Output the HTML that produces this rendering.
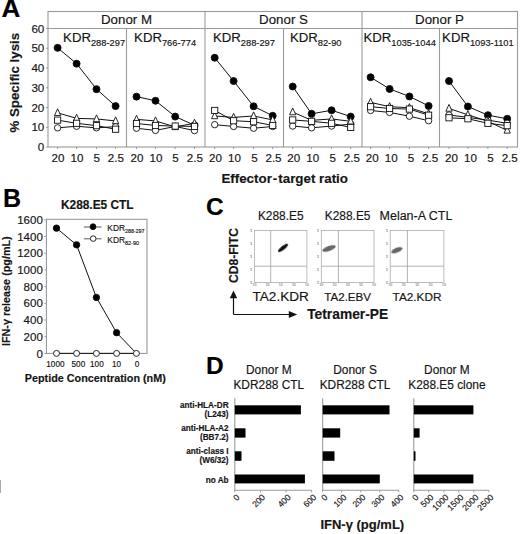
<!DOCTYPE html>
<html><head><meta charset="utf-8"><style>
html,body{margin:0;padding:0;background:#fff;width:520px;height:534px;overflow:hidden}
svg{display:block;font-family:"Liberation Sans", sans-serif}
text{stroke-width:0.16px}
</style></head><body>
<svg width="520" height="534" viewBox="0 0 520 534" font-family='"Liberation Sans", sans-serif'>
<defs><filter id="bl" x="-50%" y="-50%" width="200%" height="200%"><feGaussianBlur stdDeviation="0.6"/></filter></defs>
<rect width="520" height="534" fill="#fff"/>
<text x="1.60" y="17.30" font-size="26" text-anchor="start" font-weight="bold" fill="#000" stroke="#000" >A</text>
<rect x="48" y="11.5" width="469.5" height="135.5" fill="none" stroke="#9a9a9a" stroke-width="1.1"/>
<line x1="48.00" y1="28.50" x2="517.50" y2="28.50" stroke="#9a9a9a" stroke-width="1.1"/>
<line x1="126.50" y1="28.50" x2="126.50" y2="147.00" stroke="#9a9a9a" stroke-width="1.1"/>
<line x1="205.00" y1="11.50" x2="205.00" y2="147.00" stroke="#9a9a9a" stroke-width="1.1"/>
<line x1="283.50" y1="28.50" x2="283.50" y2="147.00" stroke="#9a9a9a" stroke-width="1.1"/>
<line x1="362.00" y1="11.50" x2="362.00" y2="147.00" stroke="#9a9a9a" stroke-width="1.1"/>
<line x1="439.50" y1="28.50" x2="439.50" y2="147.00" stroke="#9a9a9a" stroke-width="1.1"/>
<text x="126.50" y="23.50" font-size="13.3" text-anchor="middle" fill="#151515" stroke="#151515" >Donor M</text>
<text x="283.50" y="23.50" font-size="13.3" text-anchor="middle" fill="#151515" stroke="#151515" >Donor S</text>
<text x="439.50" y="23.50" font-size="13.3" text-anchor="middle" fill="#151515" stroke="#151515" >Donor P</text>
<text x="63.10" y="41.5" font-size="13.2" fill="#151515" stroke="#151515">KDR<tspan font-size="9.3" dy="4.6">288-297</tspan></text>
<text x="134.10" y="41.5" font-size="13.2" fill="#151515" stroke="#151515">KDR<tspan font-size="9.3" dy="4.6">766-774</tspan></text>
<text x="213.00" y="41.5" font-size="13.2" fill="#151515" stroke="#151515">KDR<tspan font-size="9.3" dy="4.6">288-297</tspan></text>
<text x="289.90" y="41.5" font-size="13.2" fill="#151515" stroke="#151515">KDR<tspan font-size="9.3" dy="4.6">82-90</tspan></text>
<text x="363.50" y="41.5" font-size="13.2" fill="#151515" stroke="#151515">KDR<tspan font-size="9.3" dy="4.6">1035-1044</tspan></text>
<text x="442.10" y="41.5" font-size="13.2" fill="#151515" stroke="#151515">KDR<tspan font-size="9.3" dy="4.6">1093-1101</tspan></text>
<text x="44.30" y="151.10" font-size="11.6" text-anchor="end" fill="#151515" stroke="#151515" >0</text>
<line x1="46.00" y1="147.00" x2="48.00" y2="147.00" stroke="#9a9a9a" stroke-width="1"/>
<text x="44.30" y="131.35" font-size="11.6" text-anchor="end" fill="#151515" stroke="#151515" >10</text>
<line x1="46.00" y1="127.25" x2="48.00" y2="127.25" stroke="#9a9a9a" stroke-width="1"/>
<text x="44.30" y="111.60" font-size="11.6" text-anchor="end" fill="#151515" stroke="#151515" >20</text>
<line x1="46.00" y1="107.50" x2="48.00" y2="107.50" stroke="#9a9a9a" stroke-width="1"/>
<text x="44.30" y="91.85" font-size="11.6" text-anchor="end" fill="#151515" stroke="#151515" >30</text>
<line x1="46.00" y1="87.75" x2="48.00" y2="87.75" stroke="#9a9a9a" stroke-width="1"/>
<text x="44.30" y="72.10" font-size="11.6" text-anchor="end" fill="#151515" stroke="#151515" >40</text>
<line x1="46.00" y1="68.00" x2="48.00" y2="68.00" stroke="#9a9a9a" stroke-width="1"/>
<text x="44.30" y="52.35" font-size="11.6" text-anchor="end" fill="#151515" stroke="#151515" >50</text>
<line x1="46.00" y1="48.25" x2="48.00" y2="48.25" stroke="#9a9a9a" stroke-width="1"/>
<text x="44.30" y="32.60" font-size="11.6" text-anchor="end" fill="#151515" stroke="#151515" >60</text>
<line x1="46.00" y1="28.50" x2="48.00" y2="28.50" stroke="#9a9a9a" stroke-width="1"/>
<text x="57.90" y="162.30" font-size="11.6" text-anchor="middle" fill="#151515" stroke="#151515" >20</text>
<line x1="57.60" y1="147.00" x2="57.60" y2="149.00" stroke="#9a9a9a" stroke-width="1"/>
<text x="76.90" y="162.30" font-size="11.6" text-anchor="middle" fill="#151515" stroke="#151515" >10</text>
<line x1="76.60" y1="147.00" x2="76.60" y2="149.00" stroke="#9a9a9a" stroke-width="1"/>
<text x="96.80" y="162.30" font-size="11.6" text-anchor="middle" fill="#151515" stroke="#151515" >5</text>
<line x1="96.50" y1="147.00" x2="96.50" y2="149.00" stroke="#9a9a9a" stroke-width="1"/>
<text x="115.90" y="162.30" font-size="11.6" text-anchor="middle" fill="#151515" stroke="#151515" >2.5</text>
<line x1="115.60" y1="147.00" x2="115.60" y2="149.00" stroke="#9a9a9a" stroke-width="1"/>
<text x="136.90" y="162.30" font-size="11.6" text-anchor="middle" fill="#151515" stroke="#151515" >20</text>
<line x1="136.50" y1="147.00" x2="136.50" y2="149.00" stroke="#9a9a9a" stroke-width="1"/>
<text x="155.90" y="162.30" font-size="11.6" text-anchor="middle" fill="#151515" stroke="#151515" >10</text>
<line x1="155.50" y1="147.00" x2="155.50" y2="149.00" stroke="#9a9a9a" stroke-width="1"/>
<text x="175.60" y="162.30" font-size="11.6" text-anchor="middle" fill="#151515" stroke="#151515" >5</text>
<line x1="175.20" y1="147.00" x2="175.20" y2="149.00" stroke="#9a9a9a" stroke-width="1"/>
<text x="194.90" y="162.30" font-size="11.6" text-anchor="middle" fill="#151515" stroke="#151515" >2.5</text>
<line x1="194.50" y1="147.00" x2="194.50" y2="149.00" stroke="#9a9a9a" stroke-width="1"/>
<text x="215.50" y="162.30" font-size="11.6" text-anchor="middle" fill="#151515" stroke="#151515" >20</text>
<line x1="214.70" y1="147.00" x2="214.70" y2="149.00" stroke="#9a9a9a" stroke-width="1"/>
<text x="234.40" y="162.30" font-size="11.6" text-anchor="middle" fill="#151515" stroke="#151515" >10</text>
<line x1="233.60" y1="147.00" x2="233.60" y2="149.00" stroke="#9a9a9a" stroke-width="1"/>
<text x="254.40" y="162.30" font-size="11.6" text-anchor="middle" fill="#151515" stroke="#151515" >5</text>
<line x1="253.60" y1="147.00" x2="253.60" y2="149.00" stroke="#9a9a9a" stroke-width="1"/>
<text x="273.50" y="162.30" font-size="11.6" text-anchor="middle" fill="#151515" stroke="#151515" >2.5</text>
<line x1="272.70" y1="147.00" x2="272.70" y2="149.00" stroke="#9a9a9a" stroke-width="1"/>
<text x="293.80" y="162.30" font-size="11.6" text-anchor="middle" fill="#151515" stroke="#151515" >20</text>
<line x1="292.70" y1="147.00" x2="292.70" y2="149.00" stroke="#9a9a9a" stroke-width="1"/>
<text x="312.70" y="162.30" font-size="11.6" text-anchor="middle" fill="#151515" stroke="#151515" >10</text>
<line x1="311.60" y1="147.00" x2="311.60" y2="149.00" stroke="#9a9a9a" stroke-width="1"/>
<text x="332.70" y="162.30" font-size="11.6" text-anchor="middle" fill="#151515" stroke="#151515" >5</text>
<line x1="331.60" y1="147.00" x2="331.60" y2="149.00" stroke="#9a9a9a" stroke-width="1"/>
<text x="351.80" y="162.30" font-size="11.6" text-anchor="middle" fill="#151515" stroke="#151515" >2.5</text>
<line x1="350.70" y1="147.00" x2="350.70" y2="149.00" stroke="#9a9a9a" stroke-width="1"/>
<text x="372.20" y="162.30" font-size="11.6" text-anchor="middle" fill="#151515" stroke="#151515" >20</text>
<line x1="370.60" y1="147.00" x2="370.60" y2="149.00" stroke="#9a9a9a" stroke-width="1"/>
<text x="391.20" y="162.30" font-size="11.6" text-anchor="middle" fill="#151515" stroke="#151515" >10</text>
<line x1="389.60" y1="147.00" x2="389.60" y2="149.00" stroke="#9a9a9a" stroke-width="1"/>
<text x="411.00" y="162.30" font-size="11.6" text-anchor="middle" fill="#151515" stroke="#151515" >5</text>
<line x1="409.40" y1="147.00" x2="409.40" y2="149.00" stroke="#9a9a9a" stroke-width="1"/>
<text x="430.20" y="162.30" font-size="11.6" text-anchor="middle" fill="#151515" stroke="#151515" >2.5</text>
<line x1="428.60" y1="147.00" x2="428.60" y2="149.00" stroke="#9a9a9a" stroke-width="1"/>
<text x="451.50" y="162.30" font-size="11.6" text-anchor="middle" fill="#151515" stroke="#151515" >20</text>
<line x1="449.00" y1="147.00" x2="449.00" y2="149.00" stroke="#9a9a9a" stroke-width="1"/>
<text x="470.40" y="162.30" font-size="11.6" text-anchor="middle" fill="#151515" stroke="#151515" >10</text>
<line x1="467.90" y1="147.00" x2="467.90" y2="149.00" stroke="#9a9a9a" stroke-width="1"/>
<text x="490.40" y="162.30" font-size="11.6" text-anchor="middle" fill="#151515" stroke="#151515" >5</text>
<line x1="487.90" y1="147.00" x2="487.90" y2="149.00" stroke="#9a9a9a" stroke-width="1"/>
<text x="509.70" y="162.30" font-size="11.6" text-anchor="middle" fill="#151515" stroke="#151515" >2.5</text>
<line x1="507.20" y1="147.00" x2="507.20" y2="149.00" stroke="#9a9a9a" stroke-width="1"/>
<text x="284.7" y="183.0" font-size="13.35" text-anchor="middle" font-weight="bold" fill="#151515" stroke="#151515">Effector<tspan dx="1">-</tspan><tspan dx="1">target ratio</tspan></text>
<text x="0" y="0" font-size="13.3" font-weight="bold" fill="#151515" stroke="#151515" text-anchor="middle" transform="translate(18.6 82.7) rotate(-90)">% Specific lysis</text>
<polyline points="57.60,47.85 76.60,63.65 96.50,89.13 115.60,106.12" fill="none" stroke="#111" stroke-width="1.0"/>
<polyline points="57.60,112.83 76.60,118.36 96.50,118.95 115.60,120.93" fill="none" stroke="#111" stroke-width="1.0"/>
<polyline points="57.60,120.14 76.60,123.30 96.50,125.67 115.60,129.22" fill="none" stroke="#111" stroke-width="1.0"/>
<polyline points="57.60,127.84 76.60,126.26 96.50,127.84 115.60,126.66" fill="none" stroke="#111" stroke-width="1.0"/>
<circle cx="57.60" cy="47.85" r="3.5" fill="#000" stroke="#111" stroke-width="0.9"/>
<circle cx="76.60" cy="63.65" r="3.5" fill="#000" stroke="#111" stroke-width="0.9"/>
<circle cx="96.50" cy="89.13" r="3.5" fill="#000" stroke="#111" stroke-width="0.9"/>
<circle cx="115.60" cy="106.12" r="3.5" fill="#000" stroke="#111" stroke-width="0.9"/>
<circle cx="57.60" cy="127.84" r="3.2" fill="#fff" stroke="#111" stroke-width="0.9"/>
<circle cx="76.60" cy="126.26" r="3.2" fill="#fff" stroke="#111" stroke-width="0.9"/>
<circle cx="96.50" cy="127.84" r="3.2" fill="#fff" stroke="#111" stroke-width="0.9"/>
<circle cx="115.60" cy="126.66" r="3.2" fill="#fff" stroke="#111" stroke-width="0.9"/>
<polygon points="57.60,108.75 60.75,115.55 54.45,115.55" fill="#fff" stroke="#111" stroke-width="0.9"/>
<polygon points="76.60,114.28 79.75,121.08 73.45,121.08" fill="#fff" stroke="#111" stroke-width="0.9"/>
<polygon points="96.50,114.88 99.65,121.67 93.35,121.67" fill="#fff" stroke="#111" stroke-width="0.9"/>
<polygon points="115.60,116.85 118.75,123.65 112.45,123.65" fill="#fff" stroke="#111" stroke-width="0.9"/>
<rect x="54.50" y="117.04" width="6.2" height="6.2" fill="#fff" stroke="#111" stroke-width="0.9"/>
<rect x="73.50" y="120.20" width="6.2" height="6.2" fill="#fff" stroke="#111" stroke-width="0.9"/>
<rect x="93.40" y="122.57" width="6.2" height="6.2" fill="#fff" stroke="#111" stroke-width="0.9"/>
<rect x="112.50" y="126.12" width="6.2" height="6.2" fill="#fff" stroke="#111" stroke-width="0.9"/>
<polyline points="136.50,96.64 155.50,100.78 175.20,116.58 194.50,125.28" fill="none" stroke="#111" stroke-width="1.0"/>
<polyline points="136.50,119.35 155.50,120.93 175.20,126.86 194.50,123.30" fill="none" stroke="#111" stroke-width="1.0"/>
<polyline points="136.50,123.50 155.50,125.47 175.20,126.06 194.50,126.46" fill="none" stroke="#111" stroke-width="1.0"/>
<polyline points="136.50,128.24 155.50,130.41 175.20,126.46 194.50,130.61" fill="none" stroke="#111" stroke-width="1.0"/>
<circle cx="136.50" cy="96.64" r="3.5" fill="#000" stroke="#111" stroke-width="0.9"/>
<circle cx="155.50" cy="100.78" r="3.5" fill="#000" stroke="#111" stroke-width="0.9"/>
<circle cx="175.20" cy="116.58" r="3.5" fill="#000" stroke="#111" stroke-width="0.9"/>
<circle cx="194.50" cy="125.28" r="3.5" fill="#000" stroke="#111" stroke-width="0.9"/>
<circle cx="136.50" cy="128.24" r="3.2" fill="#fff" stroke="#111" stroke-width="0.9"/>
<circle cx="155.50" cy="130.41" r="3.2" fill="#fff" stroke="#111" stroke-width="0.9"/>
<circle cx="175.20" cy="126.46" r="3.2" fill="#fff" stroke="#111" stroke-width="0.9"/>
<circle cx="194.50" cy="130.61" r="3.2" fill="#fff" stroke="#111" stroke-width="0.9"/>
<polygon points="136.50,115.27 139.65,122.07 133.35,122.07" fill="#fff" stroke="#111" stroke-width="0.9"/>
<polygon points="155.50,116.85 158.65,123.65 152.35,123.65" fill="#fff" stroke="#111" stroke-width="0.9"/>
<polygon points="175.20,122.78 178.35,129.58 172.05,129.58" fill="#fff" stroke="#111" stroke-width="0.9"/>
<polygon points="194.50,119.22 197.65,126.02 191.35,126.02" fill="#fff" stroke="#111" stroke-width="0.9"/>
<rect x="133.40" y="120.40" width="6.2" height="6.2" fill="#fff" stroke="#111" stroke-width="0.9"/>
<rect x="152.40" y="122.37" width="6.2" height="6.2" fill="#fff" stroke="#111" stroke-width="0.9"/>
<rect x="172.10" y="122.97" width="6.2" height="6.2" fill="#fff" stroke="#111" stroke-width="0.9"/>
<rect x="191.40" y="123.36" width="6.2" height="6.2" fill="#fff" stroke="#111" stroke-width="0.9"/>
<polyline points="214.70,57.73 233.60,81.03 253.60,106.31 272.70,115.80" fill="none" stroke="#111" stroke-width="1.0"/>
<polyline points="214.70,115.99 233.60,117.38 253.60,115.99 272.70,119.94" fill="none" stroke="#111" stroke-width="1.0"/>
<polyline points="214.70,110.46 233.60,120.73 253.60,121.72 272.70,125.47" fill="none" stroke="#111" stroke-width="1.0"/>
<polyline points="214.70,124.68 233.60,126.46 253.60,128.24 272.70,126.46" fill="none" stroke="#111" stroke-width="1.0"/>
<circle cx="214.70" cy="57.73" r="3.5" fill="#000" stroke="#111" stroke-width="0.9"/>
<circle cx="233.60" cy="81.03" r="3.5" fill="#000" stroke="#111" stroke-width="0.9"/>
<circle cx="253.60" cy="106.31" r="3.5" fill="#000" stroke="#111" stroke-width="0.9"/>
<circle cx="272.70" cy="115.80" r="3.5" fill="#000" stroke="#111" stroke-width="0.9"/>
<circle cx="214.70" cy="124.68" r="3.2" fill="#fff" stroke="#111" stroke-width="0.9"/>
<circle cx="233.60" cy="126.46" r="3.2" fill="#fff" stroke="#111" stroke-width="0.9"/>
<circle cx="253.60" cy="128.24" r="3.2" fill="#fff" stroke="#111" stroke-width="0.9"/>
<circle cx="272.70" cy="126.46" r="3.2" fill="#fff" stroke="#111" stroke-width="0.9"/>
<polygon points="214.70,111.91 217.85,118.71 211.55,118.71" fill="#fff" stroke="#111" stroke-width="0.9"/>
<polygon points="233.60,113.30 236.75,120.09 230.45,120.09" fill="#fff" stroke="#111" stroke-width="0.9"/>
<polygon points="253.60,111.91 256.75,118.71 250.45,118.71" fill="#fff" stroke="#111" stroke-width="0.9"/>
<polygon points="272.70,115.86 275.85,122.66 269.55,122.66" fill="#fff" stroke="#111" stroke-width="0.9"/>
<rect x="211.60" y="107.36" width="6.2" height="6.2" fill="#fff" stroke="#111" stroke-width="0.9"/>
<rect x="230.50" y="117.63" width="6.2" height="6.2" fill="#fff" stroke="#111" stroke-width="0.9"/>
<rect x="250.50" y="118.62" width="6.2" height="6.2" fill="#fff" stroke="#111" stroke-width="0.9"/>
<rect x="269.60" y="122.37" width="6.2" height="6.2" fill="#fff" stroke="#111" stroke-width="0.9"/>
<polyline points="292.70,86.56 311.60,113.82 331.60,110.26 350.70,116.58" fill="none" stroke="#111" stroke-width="1.0"/>
<polyline points="292.70,112.04 311.60,120.34 331.60,118.95 350.70,121.33" fill="none" stroke="#111" stroke-width="1.0"/>
<polyline points="292.70,119.94 311.60,121.33 331.60,123.30 350.70,127.45" fill="none" stroke="#111" stroke-width="1.0"/>
<polyline points="292.70,126.06 311.60,127.84 331.60,126.06 350.70,124.09" fill="none" stroke="#111" stroke-width="1.0"/>
<circle cx="292.70" cy="86.56" r="3.5" fill="#000" stroke="#111" stroke-width="0.9"/>
<circle cx="311.60" cy="113.82" r="3.5" fill="#000" stroke="#111" stroke-width="0.9"/>
<circle cx="331.60" cy="110.26" r="3.5" fill="#000" stroke="#111" stroke-width="0.9"/>
<circle cx="350.70" cy="116.58" r="3.5" fill="#000" stroke="#111" stroke-width="0.9"/>
<circle cx="292.70" cy="126.06" r="3.2" fill="#fff" stroke="#111" stroke-width="0.9"/>
<circle cx="311.60" cy="127.84" r="3.2" fill="#fff" stroke="#111" stroke-width="0.9"/>
<circle cx="331.60" cy="126.06" r="3.2" fill="#fff" stroke="#111" stroke-width="0.9"/>
<circle cx="350.70" cy="124.09" r="3.2" fill="#fff" stroke="#111" stroke-width="0.9"/>
<polygon points="292.70,107.96 295.85,114.76 289.55,114.76" fill="#fff" stroke="#111" stroke-width="0.9"/>
<polygon points="311.60,116.26 314.75,123.06 308.45,123.06" fill="#fff" stroke="#111" stroke-width="0.9"/>
<polygon points="331.60,114.88 334.75,121.67 328.45,121.67" fill="#fff" stroke="#111" stroke-width="0.9"/>
<polygon points="350.70,117.25 353.85,124.05 347.55,124.05" fill="#fff" stroke="#111" stroke-width="0.9"/>
<rect x="289.60" y="116.84" width="6.2" height="6.2" fill="#fff" stroke="#111" stroke-width="0.9"/>
<rect x="308.50" y="118.23" width="6.2" height="6.2" fill="#fff" stroke="#111" stroke-width="0.9"/>
<rect x="328.50" y="120.20" width="6.2" height="6.2" fill="#fff" stroke="#111" stroke-width="0.9"/>
<rect x="347.60" y="124.35" width="6.2" height="6.2" fill="#fff" stroke="#111" stroke-width="0.9"/>
<polyline points="370.60,77.28 389.60,88.94 409.40,96.44 428.60,105.92" fill="none" stroke="#111" stroke-width="1.0"/>
<polyline points="370.60,102.36 389.60,106.71 409.40,107.70 428.60,113.82" fill="none" stroke="#111" stroke-width="1.0"/>
<polyline points="370.60,106.71 389.60,108.49 409.40,109.08 428.60,115.20" fill="none" stroke="#111" stroke-width="1.0"/>
<polyline points="370.60,110.46 389.60,112.44 409.40,116.19 428.60,120.73" fill="none" stroke="#111" stroke-width="1.0"/>
<circle cx="370.60" cy="77.28" r="3.5" fill="#000" stroke="#111" stroke-width="0.9"/>
<circle cx="389.60" cy="88.94" r="3.5" fill="#000" stroke="#111" stroke-width="0.9"/>
<circle cx="409.40" cy="96.44" r="3.5" fill="#000" stroke="#111" stroke-width="0.9"/>
<circle cx="428.60" cy="105.92" r="3.5" fill="#000" stroke="#111" stroke-width="0.9"/>
<circle cx="370.60" cy="110.46" r="3.2" fill="#fff" stroke="#111" stroke-width="0.9"/>
<circle cx="389.60" cy="112.44" r="3.2" fill="#fff" stroke="#111" stroke-width="0.9"/>
<circle cx="409.40" cy="116.19" r="3.2" fill="#fff" stroke="#111" stroke-width="0.9"/>
<circle cx="428.60" cy="120.73" r="3.2" fill="#fff" stroke="#111" stroke-width="0.9"/>
<polygon points="370.60,98.28 373.75,105.08 367.45,105.08" fill="#fff" stroke="#111" stroke-width="0.9"/>
<polygon points="389.60,102.63 392.75,109.43 386.45,109.43" fill="#fff" stroke="#111" stroke-width="0.9"/>
<polygon points="409.40,103.62 412.55,110.42 406.25,110.42" fill="#fff" stroke="#111" stroke-width="0.9"/>
<polygon points="428.60,109.74 431.75,116.54 425.45,116.54" fill="#fff" stroke="#111" stroke-width="0.9"/>
<rect x="367.50" y="103.61" width="6.2" height="6.2" fill="#fff" stroke="#111" stroke-width="0.9"/>
<rect x="386.50" y="105.39" width="6.2" height="6.2" fill="#fff" stroke="#111" stroke-width="0.9"/>
<rect x="406.30" y="105.98" width="6.2" height="6.2" fill="#fff" stroke="#111" stroke-width="0.9"/>
<rect x="425.50" y="112.10" width="6.2" height="6.2" fill="#fff" stroke="#111" stroke-width="0.9"/>
<polyline points="449.00,81.03 467.90,106.51 487.90,115.20 507.20,118.76" fill="none" stroke="#111" stroke-width="1.0"/>
<polyline points="449.00,108.49 467.90,114.81 487.90,121.33 507.20,130.41" fill="none" stroke="#111" stroke-width="1.0"/>
<polyline points="449.00,117.77 467.90,118.76 487.90,123.30 507.20,125.67" fill="none" stroke="#111" stroke-width="1.0"/>
<polyline points="449.00,115.00 467.90,117.38 487.90,120.14 507.20,123.30" fill="none" stroke="#111" stroke-width="1.0"/>
<circle cx="449.00" cy="81.03" r="3.5" fill="#000" stroke="#111" stroke-width="0.9"/>
<circle cx="467.90" cy="106.51" r="3.5" fill="#000" stroke="#111" stroke-width="0.9"/>
<circle cx="487.90" cy="115.20" r="3.5" fill="#000" stroke="#111" stroke-width="0.9"/>
<circle cx="507.20" cy="118.76" r="3.5" fill="#000" stroke="#111" stroke-width="0.9"/>
<circle cx="449.00" cy="115.00" r="3.2" fill="#fff" stroke="#111" stroke-width="0.9"/>
<circle cx="467.90" cy="117.38" r="3.2" fill="#fff" stroke="#111" stroke-width="0.9"/>
<circle cx="487.90" cy="120.14" r="3.2" fill="#fff" stroke="#111" stroke-width="0.9"/>
<circle cx="507.20" cy="123.30" r="3.2" fill="#fff" stroke="#111" stroke-width="0.9"/>
<polygon points="449.00,104.41 452.15,111.21 445.85,111.21" fill="#fff" stroke="#111" stroke-width="0.9"/>
<polygon points="467.90,110.73 471.05,117.53 464.75,117.53" fill="#fff" stroke="#111" stroke-width="0.9"/>
<polygon points="487.90,117.25 491.05,124.05 484.75,124.05" fill="#fff" stroke="#111" stroke-width="0.9"/>
<polygon points="507.20,126.33 510.35,133.13 504.05,133.13" fill="#fff" stroke="#111" stroke-width="0.9"/>
<rect x="445.90" y="114.67" width="6.2" height="6.2" fill="#fff" stroke="#111" stroke-width="0.9"/>
<rect x="464.80" y="115.66" width="6.2" height="6.2" fill="#fff" stroke="#111" stroke-width="0.9"/>
<rect x="484.80" y="120.20" width="6.2" height="6.2" fill="#fff" stroke="#111" stroke-width="0.9"/>
<rect x="504.10" y="122.57" width="6.2" height="6.2" fill="#fff" stroke="#111" stroke-width="0.9"/>
<text x="3.00" y="207.00" font-size="25" text-anchor="start" font-weight="bold" fill="#000" stroke="#000" >B</text>
<text x="97.30" y="208.50" font-size="11.9" text-anchor="middle" font-weight="bold" fill="#151515" stroke="#151515" >K288.E5 CTL</text>
<rect x="46.4" y="219.3" width="100.6" height="134.09999999999997" fill="none" stroke="#9a9a9a" stroke-width="1.1"/>
<text x="42.80" y="357.50" font-size="11.5" text-anchor="end" fill="#151515" stroke="#151515" >0</text>
<line x1="44.40" y1="353.40" x2="46.40" y2="353.40" stroke="#9a9a9a" stroke-width="1"/>
<text x="42.80" y="340.80" font-size="11.5" text-anchor="end" fill="#151515" stroke="#151515" >200</text>
<line x1="44.40" y1="336.70" x2="46.40" y2="336.70" stroke="#9a9a9a" stroke-width="1"/>
<text x="42.80" y="324.10" font-size="11.5" text-anchor="end" fill="#151515" stroke="#151515" >400</text>
<line x1="44.40" y1="320.00" x2="46.40" y2="320.00" stroke="#9a9a9a" stroke-width="1"/>
<text x="42.80" y="307.40" font-size="11.5" text-anchor="end" fill="#151515" stroke="#151515" >600</text>
<line x1="44.40" y1="303.30" x2="46.40" y2="303.30" stroke="#9a9a9a" stroke-width="1"/>
<text x="42.80" y="290.70" font-size="11.5" text-anchor="end" fill="#151515" stroke="#151515" >800</text>
<line x1="44.40" y1="286.60" x2="46.40" y2="286.60" stroke="#9a9a9a" stroke-width="1"/>
<text x="42.80" y="274.00" font-size="11.5" text-anchor="end" fill="#151515" stroke="#151515" >1000</text>
<line x1="44.40" y1="269.90" x2="46.40" y2="269.90" stroke="#9a9a9a" stroke-width="1"/>
<text x="42.80" y="257.30" font-size="11.5" text-anchor="end" fill="#151515" stroke="#151515" >1200</text>
<line x1="44.40" y1="253.20" x2="46.40" y2="253.20" stroke="#9a9a9a" stroke-width="1"/>
<text x="42.80" y="240.60" font-size="11.5" text-anchor="end" fill="#151515" stroke="#151515" >1400</text>
<line x1="44.40" y1="236.50" x2="46.40" y2="236.50" stroke="#9a9a9a" stroke-width="1"/>
<text x="42.80" y="223.90" font-size="11.5" text-anchor="end" fill="#151515" stroke="#151515" >1600</text>
<line x1="44.40" y1="219.80" x2="46.40" y2="219.80" stroke="#9a9a9a" stroke-width="1"/>
<text x="55.40" y="367.00" font-size="8.2" text-anchor="middle" fill="#151515" stroke="#151515" >1000</text>
<line x1="56.50" y1="353.40" x2="56.50" y2="355.40" stroke="#9a9a9a" stroke-width="1"/>
<text x="78.40" y="367.00" font-size="8.2" text-anchor="middle" fill="#151515" stroke="#151515" >500</text>
<line x1="76.60" y1="353.40" x2="76.60" y2="355.40" stroke="#9a9a9a" stroke-width="1"/>
<text x="96.90" y="367.00" font-size="8.2" text-anchor="middle" fill="#151515" stroke="#151515" >100</text>
<line x1="96.40" y1="353.40" x2="96.40" y2="355.40" stroke="#9a9a9a" stroke-width="1"/>
<text x="116.60" y="367.00" font-size="8.2" text-anchor="middle" fill="#151515" stroke="#151515" >10</text>
<line x1="116.60" y1="353.40" x2="116.60" y2="355.40" stroke="#9a9a9a" stroke-width="1"/>
<text x="137.00" y="367.00" font-size="8.2" text-anchor="middle" fill="#151515" stroke="#151515" >0</text>
<line x1="136.40" y1="353.40" x2="136.40" y2="355.40" stroke="#9a9a9a" stroke-width="1"/>
<text x="95.30" y="381.90" font-size="10.8" text-anchor="middle" font-weight="bold" fill="#151515" stroke="#151515" >Peptide Concentration (nM)</text>
<text x="0" y="0" font-size="10.8" font-weight="bold" fill="#151515" stroke="#151515" text-anchor="middle" transform="translate(10 291.2) rotate(-90)">IFN-γ release (pg/mL)</text>
<polyline points="56.50,228.15 76.60,244.85 96.40,297.45 116.60,332.69 136.40,353.40" fill="none" stroke="#111" stroke-width="1.0"/>
<polyline points="56.50,353.40 76.60,353.40 96.40,353.40 116.60,353.40 136.40,353.40" fill="none" stroke="#111" stroke-width="1.0"/>
<circle cx="56.50" cy="228.15" r="3.2" fill="#000" stroke="#111" stroke-width="0.9"/>
<circle cx="76.60" cy="244.85" r="3.2" fill="#000" stroke="#111" stroke-width="0.9"/>
<circle cx="96.40" cy="297.45" r="3.2" fill="#000" stroke="#111" stroke-width="0.9"/>
<circle cx="116.60" cy="332.69" r="3.2" fill="#000" stroke="#111" stroke-width="0.9"/>
<circle cx="56.50" cy="353.40" r="3.0" fill="#fff" stroke="#111" stroke-width="0.9"/>
<circle cx="76.60" cy="353.40" r="3.0" fill="#fff" stroke="#111" stroke-width="0.9"/>
<circle cx="96.40" cy="353.40" r="3.0" fill="#fff" stroke="#111" stroke-width="0.9"/>
<circle cx="116.60" cy="353.40" r="3.0" fill="#fff" stroke="#111" stroke-width="0.9"/>
<circle cx="136.40" cy="353.40" r="3.0" fill="#fff" stroke="#111" stroke-width="0.9"/>
<line x1="83.80" y1="227.00" x2="101.60" y2="227.00" stroke="#333" stroke-width="0.8"/>
<circle cx="93.00" cy="226.70" r="2.9" fill="#000" stroke="#111" stroke-width="0.9"/>
<line x1="83.80" y1="238.80" x2="101.60" y2="238.80" stroke="#333" stroke-width="0.8"/>
<circle cx="93.20" cy="238.60" r="2.8" fill="#fff" stroke="#111" stroke-width="0.9"/>
<text x="107.3" y="230.9" font-size="8.4" fill="#151515" stroke="#151515">KDR<tspan font-size="5.3" dy="2">288-297</tspan></text>
<text x="107.3" y="242.7" font-size="8.4" fill="#151515" stroke="#151515">KDR<tspan font-size="5.5" dy="2">82-90</tspan></text>
<text x="206.00" y="215.00" font-size="24.5" text-anchor="start" font-weight="bold" fill="#000" stroke="#000" >C</text>
<rect x="254.5" y="230.6" width="52.40" height="51.79999999999998" fill="none" stroke="#a6a6a6" stroke-width="0.75"/>
<line x1="270.70" y1="230.60" x2="270.70" y2="282.40" stroke="#999" stroke-width="0.75"/>
<line x1="254.50" y1="266.20" x2="306.90" y2="266.20" stroke="#999" stroke-width="0.75"/>
<text x="251.20" y="232.20" font-size="4.2" text-anchor="middle" fill="#888" stroke="#888" >1</text>
<text x="254.50" y="286.20" font-size="3.4" text-anchor="middle" fill="#999" stroke="#999" >10</text>
<text x="251.20" y="245.15" font-size="4.2" text-anchor="middle" fill="#888" stroke="#888" >1</text>
<text x="267.60" y="286.20" font-size="3.4" text-anchor="middle" fill="#999" stroke="#999" >10</text>
<text x="251.20" y="258.10" font-size="4.2" text-anchor="middle" fill="#888" stroke="#888" >1</text>
<text x="280.70" y="286.20" font-size="3.4" text-anchor="middle" fill="#999" stroke="#999" >10</text>
<text x="251.20" y="271.05" font-size="4.2" text-anchor="middle" fill="#888" stroke="#888" >1</text>
<text x="293.80" y="286.20" font-size="3.4" text-anchor="middle" fill="#999" stroke="#999" >10</text>
<text x="251.20" y="284.00" font-size="4.2" text-anchor="middle" fill="#888" stroke="#888" >1</text>
<text x="306.90" y="286.20" font-size="3.4" text-anchor="middle" fill="#999" stroke="#999" >10</text>
<ellipse cx="283" cy="247.9" rx="6.2" ry="1.9" fill="#111" transform="rotate(-38 283 247.9)" filter="url(#bl)"/>
<text x="280.70" y="220.30" font-size="11.9" text-anchor="middle" fill="#151515" stroke="#151515" >K288.E5</text>
<text x="280.70" y="301.20" font-size="13.6" text-anchor="middle" fill="#151515" stroke="#151515" >TA2.KDR</text>
<rect x="321.3" y="230.6" width="52.70" height="51.79999999999998" fill="none" stroke="#a6a6a6" stroke-width="0.75"/>
<line x1="338.40" y1="230.60" x2="338.40" y2="282.40" stroke="#999" stroke-width="0.75"/>
<line x1="321.30" y1="266.20" x2="374.00" y2="266.20" stroke="#999" stroke-width="0.75"/>
<text x="318.00" y="232.20" font-size="4.2" text-anchor="middle" fill="#888" stroke="#888" >1</text>
<text x="321.30" y="286.20" font-size="3.4" text-anchor="middle" fill="#999" stroke="#999" >10</text>
<text x="318.00" y="245.15" font-size="4.2" text-anchor="middle" fill="#888" stroke="#888" >1</text>
<text x="334.48" y="286.20" font-size="3.4" text-anchor="middle" fill="#999" stroke="#999" >10</text>
<text x="318.00" y="258.10" font-size="4.2" text-anchor="middle" fill="#888" stroke="#888" >1</text>
<text x="347.65" y="286.20" font-size="3.4" text-anchor="middle" fill="#999" stroke="#999" >10</text>
<text x="318.00" y="271.05" font-size="4.2" text-anchor="middle" fill="#888" stroke="#888" >1</text>
<text x="360.82" y="286.20" font-size="3.4" text-anchor="middle" fill="#999" stroke="#999" >10</text>
<text x="318.00" y="284.00" font-size="4.2" text-anchor="middle" fill="#888" stroke="#888" >1</text>
<text x="374.00" y="286.20" font-size="3.4" text-anchor="middle" fill="#999" stroke="#999" >10</text>
<ellipse cx="329" cy="248.5" rx="7" ry="2.6" fill="#666" transform="rotate(-20 329 248.5)" filter="url(#bl)"/>
<text x="347.65" y="220.30" font-size="11.9" text-anchor="middle" fill="#151515" stroke="#151515" >K288.E5</text>
<text x="347.65" y="301.20" font-size="11.6" text-anchor="middle" fill="#151515" stroke="#151515" >TA2.EBV</text>
<rect x="390.2" y="230.6" width="53.70" height="51.79999999999998" fill="none" stroke="#a6a6a6" stroke-width="0.75"/>
<line x1="407.40" y1="230.60" x2="407.40" y2="282.40" stroke="#999" stroke-width="0.75"/>
<line x1="390.20" y1="266.20" x2="443.90" y2="266.20" stroke="#999" stroke-width="0.75"/>
<text x="386.90" y="232.20" font-size="4.2" text-anchor="middle" fill="#888" stroke="#888" >1</text>
<text x="390.20" y="286.20" font-size="3.4" text-anchor="middle" fill="#999" stroke="#999" >10</text>
<text x="386.90" y="245.15" font-size="4.2" text-anchor="middle" fill="#888" stroke="#888" >1</text>
<text x="403.62" y="286.20" font-size="3.4" text-anchor="middle" fill="#999" stroke="#999" >10</text>
<text x="386.90" y="258.10" font-size="4.2" text-anchor="middle" fill="#888" stroke="#888" >1</text>
<text x="417.05" y="286.20" font-size="3.4" text-anchor="middle" fill="#999" stroke="#999" >10</text>
<text x="386.90" y="271.05" font-size="4.2" text-anchor="middle" fill="#888" stroke="#888" >1</text>
<text x="430.47" y="286.20" font-size="3.4" text-anchor="middle" fill="#999" stroke="#999" >10</text>
<text x="386.90" y="284.00" font-size="4.2" text-anchor="middle" fill="#888" stroke="#888" >1</text>
<text x="443.90" y="286.20" font-size="3.4" text-anchor="middle" fill="#999" stroke="#999" >10</text>
<ellipse cx="396.8" cy="250.2" rx="5.8" ry="2.4" fill="#666" transform="rotate(-22 396.8 250.2)" filter="url(#bl)"/>
<text x="416.00" y="220.30" font-size="12.5" text-anchor="middle" fill="#151515" stroke="#151515" >Melan-A CTL</text>
<text x="417.05" y="301.20" font-size="11.8" text-anchor="middle" fill="#151515" stroke="#151515" >TA2.KDR</text>
<text x="234.3" y="255.5" font-size="12.1" font-weight="bold" fill="#151515" stroke="#151515" text-anchor="middle" dominant-baseline="middle" transform="rotate(-90 234.3 255.5)">CD8-FITC</text>
<line x1="233.50" y1="297.00" x2="233.50" y2="314.50" stroke="#111" stroke-width="1.2"/>
<line x1="233.50" y1="314.50" x2="289.00" y2="314.50" stroke="#111" stroke-width="1.2"/>
<polygon points="233.5,290.5 237.2,298.2 229.8,298.2" fill="#111"/>
<polygon points="297.2,314.5 288.8,311 288.8,318" fill="#111"/>
<text x="307.20" y="319.20" font-size="13.8" text-anchor="start" font-weight="bold" fill="#151515" stroke="#151515" >Tetramer-PE</text>
<text x="206.00" y="373.80" font-size="24.5" text-anchor="start" font-weight="bold" fill="#000" stroke="#000" >D</text>
<text x="268.80" y="374.20" font-size="11.9" text-anchor="middle" fill="#151515" stroke="#151515" >Donor M</text>
<text x="268.80" y="388.80" font-size="11.9" text-anchor="middle" fill="#151515" stroke="#151515" >KDR288 CTL</text>
<line x1="234.80" y1="398.30" x2="234.80" y2="490.50" stroke="#9a9a9a" stroke-width="1.1"/>
<line x1="234.80" y1="490.30" x2="311.70" y2="490.30" stroke="#9a9a9a" stroke-width="1.1"/>
<rect x="234.80" y="405.3" width="66.10" height="9.10" fill="#000"/>
<rect x="234.80" y="428.3" width="10.70" height="9.30" fill="#000"/>
<rect x="234.80" y="451.3" width="6.70" height="9.50" fill="#000"/>
<rect x="234.80" y="474.5" width="70.10" height="8.90" fill="#000"/>
<line x1="234.80" y1="490.30" x2="234.80" y2="492.30" stroke="#9a9a9a" stroke-width="1"/>
<text x="240.10" y="497.80" font-size="8.5" text-anchor="end" fill="#151515" stroke="#151515" transform="rotate(-45 240.10 497.8)">0</text>
<line x1="260.40" y1="490.30" x2="260.40" y2="492.30" stroke="#9a9a9a" stroke-width="1"/>
<text x="265.70" y="497.80" font-size="8.5" text-anchor="end" fill="#151515" stroke="#151515" transform="rotate(-45 265.70 497.8)">200</text>
<line x1="286.00" y1="490.30" x2="286.00" y2="492.30" stroke="#9a9a9a" stroke-width="1"/>
<text x="291.30" y="497.80" font-size="8.5" text-anchor="end" fill="#151515" stroke="#151515" transform="rotate(-45 291.30 497.8)">400</text>
<line x1="311.60" y1="490.30" x2="311.60" y2="492.30" stroke="#9a9a9a" stroke-width="1"/>
<text x="316.90" y="497.80" font-size="8.5" text-anchor="end" fill="#151515" stroke="#151515" transform="rotate(-45 316.90 497.8)">600</text>
<text x="355.00" y="374.20" font-size="11.9" text-anchor="middle" fill="#151515" stroke="#151515" >Donor S</text>
<text x="355.00" y="388.80" font-size="11.9" text-anchor="middle" fill="#151515" stroke="#151515" >KDR288 CTL</text>
<line x1="322.70" y1="398.30" x2="322.70" y2="490.50" stroke="#9a9a9a" stroke-width="1.1"/>
<line x1="322.70" y1="490.30" x2="398.80" y2="490.30" stroke="#9a9a9a" stroke-width="1.1"/>
<rect x="322.70" y="405.3" width="66.80" height="9.10" fill="#000"/>
<rect x="322.70" y="428.3" width="17.50" height="9.30" fill="#000"/>
<rect x="322.70" y="451.3" width="11.80" height="9.50" fill="#000"/>
<rect x="322.70" y="474.5" width="57.10" height="8.90" fill="#000"/>
<line x1="322.70" y1="490.30" x2="322.70" y2="492.30" stroke="#9a9a9a" stroke-width="1"/>
<text x="328.00" y="497.80" font-size="8.5" text-anchor="end" fill="#151515" stroke="#151515" transform="rotate(-45 328.00 497.8)">0</text>
<line x1="341.72" y1="490.30" x2="341.72" y2="492.30" stroke="#9a9a9a" stroke-width="1"/>
<text x="347.02" y="497.80" font-size="8.5" text-anchor="end" fill="#151515" stroke="#151515" transform="rotate(-45 347.02 497.8)">100</text>
<line x1="360.75" y1="490.30" x2="360.75" y2="492.30" stroke="#9a9a9a" stroke-width="1"/>
<text x="366.05" y="497.80" font-size="8.5" text-anchor="end" fill="#151515" stroke="#151515" transform="rotate(-45 366.05 497.8)">200</text>
<line x1="379.77" y1="490.30" x2="379.77" y2="492.30" stroke="#9a9a9a" stroke-width="1"/>
<text x="385.07" y="497.80" font-size="8.5" text-anchor="end" fill="#151515" stroke="#151515" transform="rotate(-45 385.07 497.8)">300</text>
<line x1="398.80" y1="490.30" x2="398.80" y2="492.30" stroke="#9a9a9a" stroke-width="1"/>
<text x="404.10" y="497.80" font-size="8.5" text-anchor="end" fill="#151515" stroke="#151515" transform="rotate(-45 404.10 497.8)">400</text>
<text x="446.90" y="374.20" font-size="11.9" text-anchor="middle" fill="#151515" stroke="#151515" >Donor M</text>
<text x="446.90" y="388.80" font-size="11.9" text-anchor="middle" fill="#151515" stroke="#151515" >K288.E5 clone</text>
<line x1="413.80" y1="398.30" x2="413.80" y2="490.50" stroke="#9a9a9a" stroke-width="1.1"/>
<line x1="413.80" y1="490.30" x2="488.80" y2="490.30" stroke="#9a9a9a" stroke-width="1.1"/>
<rect x="413.80" y="405.3" width="59.60" height="9.10" fill="#000"/>
<rect x="413.80" y="428.3" width="5.80" height="9.30" fill="#000"/>
<rect x="413.80" y="451.3" width="1.70" height="9.50" fill="#000"/>
<rect x="413.80" y="474.5" width="59.60" height="8.90" fill="#000"/>
<line x1="413.80" y1="490.30" x2="413.80" y2="492.30" stroke="#9a9a9a" stroke-width="1"/>
<text x="419.10" y="497.80" font-size="8.5" text-anchor="end" fill="#151515" stroke="#151515" transform="rotate(-45 419.10 497.8)">0</text>
<line x1="428.80" y1="490.30" x2="428.80" y2="492.30" stroke="#9a9a9a" stroke-width="1"/>
<text x="434.10" y="497.80" font-size="8.5" text-anchor="end" fill="#151515" stroke="#151515" transform="rotate(-45 434.10 497.8)">500</text>
<line x1="443.80" y1="490.30" x2="443.80" y2="492.30" stroke="#9a9a9a" stroke-width="1"/>
<text x="449.10" y="497.80" font-size="8.5" text-anchor="end" fill="#151515" stroke="#151515" transform="rotate(-45 449.10 497.8)">1000</text>
<line x1="458.80" y1="490.30" x2="458.80" y2="492.30" stroke="#9a9a9a" stroke-width="1"/>
<text x="464.10" y="497.80" font-size="8.5" text-anchor="end" fill="#151515" stroke="#151515" transform="rotate(-45 464.10 497.8)">1500</text>
<line x1="473.80" y1="490.30" x2="473.80" y2="492.30" stroke="#9a9a9a" stroke-width="1"/>
<text x="479.10" y="497.80" font-size="8.5" text-anchor="end" fill="#151515" stroke="#151515" transform="rotate(-45 479.10 497.8)">2000</text>
<line x1="488.80" y1="490.30" x2="488.80" y2="492.30" stroke="#9a9a9a" stroke-width="1"/>
<text x="494.10" y="497.80" font-size="8.5" text-anchor="end" fill="#151515" stroke="#151515" transform="rotate(-45 494.10 497.8)">2500</text>
<text x="228.60" y="407.60" font-size="8.2" text-anchor="end" font-weight="bold" fill="#151515" stroke="#151515" >anti-HLA-DR</text>
<text x="228.60" y="416.80" font-size="8.2" text-anchor="end" font-weight="bold" fill="#151515" stroke="#151515" >(L243)</text>
<text x="228.60" y="430.60" font-size="8.2" text-anchor="end" font-weight="bold" fill="#151515" stroke="#151515" >anti-HLA-A2</text>
<text x="228.60" y="440.00" font-size="8.2" text-anchor="end" font-weight="bold" fill="#151515" stroke="#151515" >(BB7.2)</text>
<text x="228.60" y="453.60" font-size="8.2" text-anchor="end" font-weight="bold" fill="#151515" stroke="#151515" >anti-class I</text>
<text x="228.60" y="463.20" font-size="8.2" text-anchor="end" font-weight="bold" fill="#151515" stroke="#151515" >(W6/32)</text>
<text x="228.60" y="483.30" font-size="8.2" text-anchor="end" font-weight="bold" fill="#151515" stroke="#151515" >no Ab</text>
<text x="362.30" y="528.80" font-size="13" text-anchor="middle" font-weight="bold" fill="#151515" stroke="#151515" >IFN-γ (pg/mL)</text>
<rect x="0" y="480" width="1" height="13" fill="#aaa"/>
</svg>
</body></html>
